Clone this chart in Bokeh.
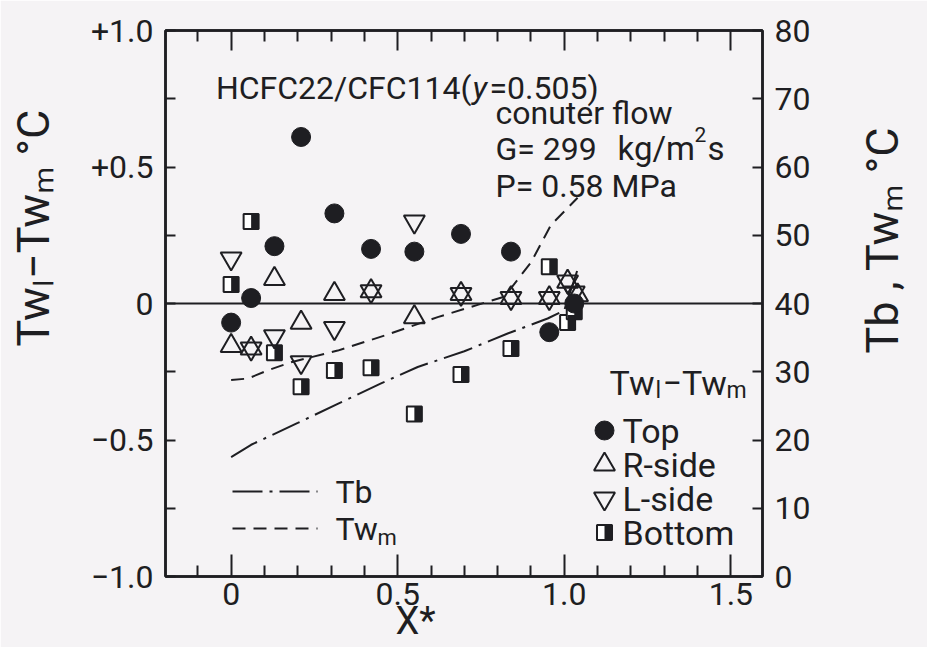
import math
from bokeh.plotting import figure
from bokeh.models import (Range1d, LinearAxis, FixedTicker, Span, Label,
                          ColumnDataSource, CustomJSTickFormatter)
from bokeh.transform import dodge
from bokeh.embed import file_html
from bokeh.resources import INLINE

# ---------------- data ----------------
x_top = [0.0, 0.06, 0.13, 0.21, 0.31, 0.42, 0.55, 0.69, 0.84, 0.955, 1.03]
y_top = [-0.07, 0.02, 0.21, 0.61, 0.33, 0.20, 0.19, 0.255, 0.19, -0.105, 0.00]

x_rside = [0.0, 0.06, 0.13, 0.21, 0.31, 0.42, 0.55, 0.69, 0.84, 0.955, 1.01, 1.04]
y_rside = [-0.155, -0.165, 0.09, -0.07, 0.035, 0.045, -0.05, 0.035, 0.02, 0.02, 0.08, 0.03]

x_lside = [0.0, 0.06, 0.13, 0.21, 0.31, 0.42, 0.55, 0.69, 0.84, 0.955, 1.01, 1.03]
y_lside = [0.165, -0.165, -0.12, -0.215, -0.09, 0.045, 0.30, 0.035, 0.02, 0.02, 0.08, 0.04]

x_bottom = [0.0, 0.06, 0.13, 0.21, 0.31, 0.42, 0.55, 0.69, 0.84, 0.955, 1.01, 1.03]
y_bottom = [0.07, 0.30, -0.18, -0.305, -0.245, -0.235, -0.405, -0.26, -0.165, 0.135, -0.07, -0.03]

x_tb = [0.0, 0.06, 0.20, 0.32, 0.45, 0.56, 0.70, 0.83, 0.95, 1.00, 1.04]
tb = [17.5, 19.3, 22.5, 25.3, 28.3, 30.7, 33.0, 35.6, 37.8, 39.0, 45.0]

x_twm = [0.0, 0.05, 0.11, 0.18, 0.32, 0.46, 0.62, 0.74, 0.82, 0.90, 0.96, 1.04]
twm = [28.8, 29.0, 30.2, 31.4, 33.1, 35.3, 38.0, 39.8, 41.0, 46.0, 51.5, 55.5]

x_ticks = [0.0, 0.5, 1.0, 1.5]
x_tick_labels = ["0", "0.5", "1.0", "1.5"]
x_minor_ticks = [-0.1, 0.1, 0.2, 0.3, 0.4, 0.6, 0.7, 0.8, 0.9, 1.1, 1.2, 1.3, 1.4]
y_ticks = [-1.0, -0.5, 0.0, 0.5, 1.0]
y_tick_labels = ["\u22121.0", "\u22120.5", "0", "+0.5", "+1.0"]
y_minor_ticks = [-0.75, -0.25, 0.25, 0.75]
t_ticks = [0, 10, 20, 30, 40, 50, 60, 70, 80]
t_tick_labels = ["0", "10", "20", "30", "40", "50", "60", "70", "80"]

x_title = "X*"
y_title = "Tw\u2097\u2212Tw\u2098 \u00b0C"
t_title = "Tb , Tw\u2098 \u00b0C"
legend_labels = ["Top", "R-side", "L-side", "Bottom"]
line_legend_labels = ["Tb", "Tw"]

# ---------------- layout / style ----------------
INK = "#1e1e22"
BG = "#f5f3f5"
FONT = "Roboto"
XMIN, XMAX = -0.197, 1.595
FR_L, FR_R, FR_T, FR_B = 165, 762, 30, 576      # frame edges in page px
W, H = 927, 647

def data_x(px):
    return XMIN + (px - FR_L) / (FR_R - FR_L) * (XMAX - XMIN)

def data_y(py):
    return -1.0 + (FR_B - py) / (FR_B - FR_T) * 2.0

p = figure(width=W, height=H, output_backend="svg", toolbar_location=None,
           x_range=Range1d(XMIN, XMAX), y_range=Range1d(-1.0, 1.0),
           min_border_left=FR_L, min_border_right=W - FR_R,
           min_border_top=FR_T, min_border_bottom=H - FR_B,
           background_fill_color=BG, border_fill_color=BG)
p.extra_y_ranges = {"T": Range1d(0, 80)}
p.grid.visible = False
p.outline_line_color = INK
p.outline_line_width = 2.5


def fmt(tv, tl):
    return CustomJSTickFormatter(args=dict(tv=tv, tl=tl), code="""
        for (let i = 0; i < tv.length; i++) {
            if (Math.abs(tv[i] - tick) < 1e-9) return tl[i];
        }
        return "";
    """)


def style_axis(ax, tick_in, minor_in, font_px, standoff):
    ax.axis_line_color = INK
    ax.axis_line_width = 2.5
    ax.major_tick_line_color = INK
    ax.minor_tick_line_color = INK
    ax.major_tick_line_width = 2
    ax.minor_tick_line_width = 2
    ax.major_tick_in = tick_in
    ax.major_tick_out = 0
    ax.minor_tick_in = minor_in
    ax.minor_tick_out = 0
    ax.major_label_text_font = FONT
    ax.major_label_text_font_size = f"{font_px}px"
    ax.major_label_text_color = INK
    ax.major_label_standoff = standoff


# bottom axis
xa = p.xaxis[0]
xa.ticker = FixedTicker(ticks=x_ticks, minor_ticks=x_minor_ticks)
xa.formatter = fmt(x_ticks, x_tick_labels)
style_axis(xa, 22, 11, 32, 6)

# left axis
ya = p.yaxis[0]
ya.ticker = FixedTicker(ticks=y_ticks, minor_ticks=y_minor_ticks)
ya.formatter = fmt(y_ticks, y_tick_labels)
style_axis(ya, 10, 10, 32, 12)

# right axis (Tb, Twm)
ra = LinearAxis(y_range_name="T", ticker=FixedTicker(ticks=t_ticks, minor_ticks=[]),
                formatter=fmt(t_ticks, t_tick_labels))
style_axis(ra, 10, 0, 32, 12)
p.add_layout(ra, "right")

# top axis (ticks only)
ta = LinearAxis(ticker=FixedTicker(ticks=x_ticks, minor_ticks=x_minor_ticks),
                formatter=fmt([], []))
style_axis(ta, 20, 11, 1, 0)
p.add_layout(ta, "above")

# axis titles, placed in side panels (positions relative to each panel box)
A = math.pi / 2
TITLE_PX = 45
p.add_layout(Label(x=-1, y=FR_B - 346, x_units="screen", y_units="screen", text=y_title,
                   text_font=FONT, text_font_size=f"{TITLE_PX}px", text_color=INK,
                   text_align="left", text_baseline="middle", angle=A), "left")
p.add_layout(Label(x=69, y=FR_B - 353, x_units="screen", y_units="screen", text=t_title,
                   text_font=FONT, text_font_size=f"{TITLE_PX}px", text_color=INK,
                   text_align="left", text_baseline="middle", angle=A), "right")
p.add_layout(Label(x=415 - 866, y=FR_B - 620, x_units="screen", y_units="screen",
                   text=x_title, text_font=FONT, text_font_size="38px", text_color=INK,
                   text_align="center", text_baseline="middle"), "right")

# zero line
p.add_layout(Span(location=0, dimension="width", line_color=INK, line_width=2))

# curves on the right axis
p.line(x_tb, tb, y_range_name="T", line_color=INK, line_width=2, line_dash="30 7 3 7")
p.line(x_twm, twm, y_range_name="T", line_color=INK, line_width=2, line_dash="13 8")

# markers
SQ = 15
HALF_DX = (SQ / 4) * (XMAX - XMIN) / (FR_R - FR_L)

src_b = ColumnDataSource(dict(x=x_bottom, y=y_bottom))
p.scatter("x", "y", source=src_b, marker="square", size=SQ, fill_color="white",
          line_color=INK, line_width=2)
p.rect(x=dodge("x", HALF_DX, range=p.x_range), y="y", source=src_b, width=SQ / 2,
       height=SQ, width_units="screen", height_units="screen",
       fill_color=INK, line_color=None)
p.scatter(x_rside, y_rside, marker="triangle", size=21, fill_color=None,
          line_color=INK, line_width=2)
p.scatter(x_lside, y_lside, marker="inverted_triangle", size=21, fill_color=None,
          line_color=INK, line_width=2)
p.scatter(x_top, y_top, marker="circle", size=19, fill_color=INK, line_color=INK)


# ---------------- texts inside the frame ----------------
def lbl(text, px, py, size, align="left", baseline="alphabetic", style="normal"):
    p.add_layout(Label(x=px - FR_L, y=FR_B - py, x_units="screen", y_units="screen",
                       text=text, text_font=FONT, text_font_size=f"{size}px",
                       text_align=align, text_baseline=baseline,
                       text_color=INK, text_font_style=style))


lbl("HCFC22/CFC114(", 471, 87, 32, align="right")
lbl("y", 472, 87, 32, style="italic")
lbl("=0.505)", 489, 87, 32)
lbl("conuter flow", 495, 112, 32)
lbl("G= 299", 495, 148, 32)
lbl("kg/m", 617, 148, 33)
lbl("2", 694, 134, 21)
lbl("s", 707, 148, 33)
lbl("P= 0.58 MPa", 495, 185, 32)

# ---------------- legends ----------------
LEG_X = 604
LEG_TXT_X = 622
LEG_ROWS = [430, 464, 498, 532]
lbl("Tw", 654, 382, 34, align="right", baseline="middle")
lbl("l", 655, 390, 23, baseline="middle")
lbl("\u2212Tw", 662, 382, 34, baseline="middle")
lbl("m", 726, 390, 23, baseline="middle")

lx = data_x(LEG_X)
p.scatter([lx], [data_y(LEG_ROWS[0])], marker="circle", size=19, fill_color=INK, line_color=INK)
p.scatter([lx], [data_y(LEG_ROWS[1])], marker="triangle", size=21, fill_color=None,
          line_color=INK, line_width=2)
p.scatter([lx], [data_y(LEG_ROWS[2])], marker="inverted_triangle", size=21, fill_color=None,
          line_color=INK, line_width=2)
src_lb = ColumnDataSource(dict(x=[lx], y=[data_y(LEG_ROWS[3])]))
p.scatter("x", "y", source=src_lb, marker="square", size=SQ, fill_color="white",
          line_color=INK, line_width=2)
p.rect(x=dodge("x", HALF_DX, range=p.x_range), y="y", source=src_lb, width=SQ / 2,
       height=SQ, width_units="screen", height_units="screen", fill_color=INK, line_color=None)
for lab, row in zip(legend_labels, LEG_ROWS):
    lbl(lab, LEG_TXT_X, row, 34, baseline="middle")

# line legend
LL_X0, LL_X1, LL_TXT = 232, 317, 335
LL_ROWS = [491, 528]
p.line([data_x(LL_X0), data_x(LL_X1)], [data_y(LL_ROWS[0])] * 2, line_color=INK,
       line_width=2, line_dash="30 7 3 7")
p.line([data_x(LL_X0), data_x(LL_X1)], [data_y(LL_ROWS[1])] * 2, line_color=INK,
       line_width=2, line_dash="13 8")
lbl(line_legend_labels[0], LL_TXT, LL_ROWS[0], 32, baseline="middle")
lbl(line_legend_labels[1], LL_TXT, LL_ROWS[1], 32, baseline="middle")
lbl("m", 377, LL_ROWS[1] + 9, 22, baseline="middle")

open("out.html", "w").write(file_html(p, INLINE))
